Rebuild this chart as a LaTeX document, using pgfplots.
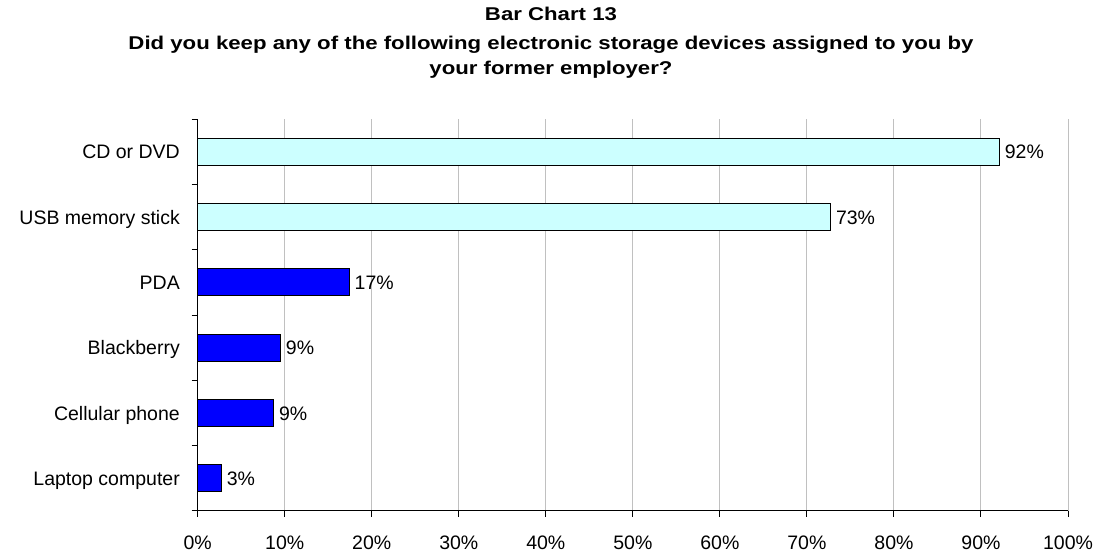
\documentclass[border=0pt]{standalone}
\usepackage{fontspec}
\setmainfont{Liberation Sans}
\usepackage{graphicx}
\usepackage{pgfplots}
\pgfplotsset{compat=1.18}
\definecolor{lightcyan}{HTML}{CCFFFF}
\definecolor{barblue}{HTML}{0000FF}
\definecolor{gridgray}{HTML}{C0C0C0}
\newcommand{\lbl}{\fontsize{19.5}{23}\selectfont}
\newcommand{\ttl}{\bfseries\fontsize{18.5}{22}\selectfont}
\pgfplotstableread{
x y lab
92.1 6 92
72.7 5 73
}\cyandata
\pgfplotstableread{
x y lab
17.4 4 17
9.5 3 9
8.7 2 9
2.7 1 3
}\bluedata
\begin{document}
\begin{tikzpicture}[x=1pt,y=1pt]
\path[use as bounding box] (-197.7,-43) rectangle (898.3,511);
\begin{axis}[
  at={(0pt,0pt)}, anchor=south west,
  width=870.3pt, height=392pt, scale only axis,
  xmin=0, xmax=100, ymin=0.5, ymax=6.5,
  axis x line*=bottom, axis y line*=left,
  axis line style={black, line width=1pt},
  xtick={0,10,...,100},
  xticklabels={0\%,10\%,20\%,30\%,40\%,50\%,60\%,70\%,80\%,90\%,100\%},
  xticklabel style={font=\lbl, anchor=base, inner sep=0pt, yshift=-33pt},
  xmajorgrids,
  major grid style={gridgray, line width=1pt},
  tick align=outside, major tick length=6pt,
  tick style={black, line width=1pt},
  ytick={0.5,1.5,...,6.5},
  yticklabels={},
  extra y ticks={1,2,3,4,5,6},
  extra y tick labels={Laptop computer, Cellular phone, Blackberry, PDA, USB memory stick, CD or DVD},
  extra y tick style={major tick length=0pt, yticklabel style={font=\lbl, anchor=base east, inner sep=0pt, xshift=-17.7pt, yshift=-7pt}},
  clip=false,
  nodes near coords={\pgfplotspointmeta\%},
  every node near coord/.append style={font=\lbl, black, anchor=base west, inner sep=0pt, xshift=5pt, yshift=-7pt},
]
\addplot[xbar, bar width=27pt, bar shift=0pt, fill=lightcyan, draw=black, line width=1.2pt,
  point meta=explicit symbolic] table[x=x, y=y, meta=lab] {\cyandata};
\addplot[xbar, bar width=27pt, bar shift=0pt, fill=barblue, draw=black, line width=1.2pt,
  point meta=explicit symbolic] table[x=x, y=y, meta=lab] {\bluedata};
\end{axis}
\node[anchor=base] at (353.3,490.3) {\scalebox{1.2}[1]{\ttl Bar Chart 13}};
\node[anchor=base] at (353.3,461.7) {\scalebox{1.2}[1]{\ttl Did you keep any of the following electronic storage devices assigned to you by}};
\node[anchor=base] at (353.3,436) {\scalebox{1.2}[1]{\ttl your former employer?}};
\end{tikzpicture}
\end{document}
